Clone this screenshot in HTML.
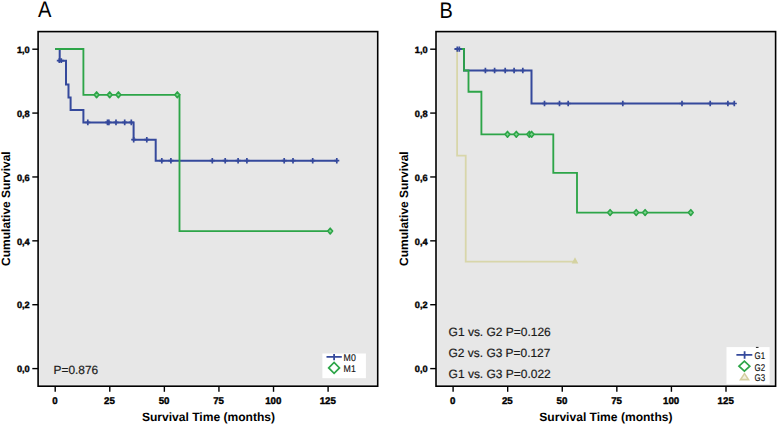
<!DOCTYPE html>
<html><head><meta charset="utf-8"><style>
html,body{margin:0;padding:0;background:#fff;width:778px;height:425px;overflow:hidden}
svg{display:block}
text{font-family:"Liberation Sans",sans-serif;text-rendering:geometricPrecision}
.tk{font-size:9.2px;font-weight:bold;fill:#000;stroke:#000;stroke-width:0.4px}
.tx{font-size:9.7px}
.ax{font-size:12px;font-weight:bold;fill:#000}
.lg{font-size:9.8px;fill:#111;stroke:#111;stroke-width:0.15px}
.pv{font-size:12px;fill:#1a1a1a;stroke:#1a1a1a;stroke-width:0.2px}
.pl{font-size:22.6px;fill:#000}
</style></head><body>
<svg width="778" height="425" viewBox="0 0 778 425">
<rect x="38.1" y="31.6" width="339.59999999999997" height="354.59999999999997" fill="#e7e7e7" stroke="none"/>
<rect x="436.0" y="31.6" width="339.6" height="354.59999999999997" fill="#e7e7e7" stroke="none"/>
<path d="M55.2 49.0 L59.7 49.0 L59.7 60.7 L66.0 60.7 L66.0 84.5 L68.5 84.5 L68.5 97.4 L70.6 97.4 L70.6 109.9 L83.4 109.9 L83.4 122.4 L133.6 122.4 L133.6 139.7 L155.7 139.7 L155.7 160.7 L336.8 160.7" stroke="#35499C" stroke-width="2.0" fill="none" stroke-linejoin="miter" stroke-linecap="butt"/>
<path d="M55.2 49.0 L83.4 49.0 L83.4 94.8 L179.5 94.8 L179.5 231.1 L330.2 231.1" stroke="#2DA548" stroke-width="1.85" fill="none" stroke-linejoin="miter" stroke-linecap="butt"/>
<path d="M59.3 58.300000000000004V63.1M56.8 60.7H61.8" stroke="#35499C" stroke-width="1.7" fill="none"/>
<path d="M61.3 58.300000000000004V63.1M58.8 60.7H63.8" stroke="#35499C" stroke-width="1.7" fill="none"/>
<path d="M87.8 119.60000000000001V125.2M85.3 122.4H90.3" stroke="#35499C" stroke-width="1.7" fill="none"/>
<path d="M107.5 119.60000000000001V125.2M105.0 122.4H110.0" stroke="#35499C" stroke-width="1.7" fill="none"/>
<path d="M108.9 119.60000000000001V125.2M106.4 122.4H111.4" stroke="#35499C" stroke-width="1.7" fill="none"/>
<path d="M116.0 119.60000000000001V125.2M113.5 122.4H118.5" stroke="#35499C" stroke-width="1.7" fill="none"/>
<path d="M124.7 119.60000000000001V125.2M122.2 122.4H127.2" stroke="#35499C" stroke-width="1.7" fill="none"/>
<path d="M131.3 119.60000000000001V125.2M128.8 122.4H133.8" stroke="#35499C" stroke-width="1.7" fill="none"/>
<path d="M133.7 136.89999999999998V142.5M131.2 139.7H136.2" stroke="#35499C" stroke-width="1.7" fill="none"/>
<path d="M146.8 136.89999999999998V142.5M144.3 139.7H149.3" stroke="#35499C" stroke-width="1.7" fill="none"/>
<path d="M161.8 157.89999999999998V163.5M159.3 160.7H164.3" stroke="#35499C" stroke-width="1.7" fill="none"/>
<path d="M170.9 157.89999999999998V163.5M168.4 160.7H173.4" stroke="#35499C" stroke-width="1.7" fill="none"/>
<path d="M212.3 157.89999999999998V163.5M209.8 160.7H214.8" stroke="#35499C" stroke-width="1.7" fill="none"/>
<path d="M225.2 157.89999999999998V163.5M222.7 160.7H227.7" stroke="#35499C" stroke-width="1.7" fill="none"/>
<path d="M238.1 157.89999999999998V163.5M235.6 160.7H240.6" stroke="#35499C" stroke-width="1.7" fill="none"/>
<path d="M246.9 157.89999999999998V163.5M244.4 160.7H249.4" stroke="#35499C" stroke-width="1.7" fill="none"/>
<path d="M284.2 157.89999999999998V163.5M281.7 160.7H286.7" stroke="#35499C" stroke-width="1.7" fill="none"/>
<path d="M293.0 157.89999999999998V163.5M290.5 160.7H295.5" stroke="#35499C" stroke-width="1.7" fill="none"/>
<path d="M312.7 157.89999999999998V163.5M310.2 160.7H315.2" stroke="#35499C" stroke-width="1.7" fill="none"/>
<path d="M336.8 157.89999999999998V163.5M334.3 160.7H339.3" stroke="#35499C" stroke-width="1.7" fill="none"/>
<path d="M94.19999999999999 94.8L96.6 91.89999999999999L99.0 94.8L96.6 97.7Z" stroke="#2DA548" stroke-width="1.6" fill="#7fd68e" stroke-linejoin="round"/>
<path d="M107.3 94.8L109.7 91.89999999999999L112.10000000000001 94.8L109.7 97.7Z" stroke="#2DA548" stroke-width="1.6" fill="#7fd68e" stroke-linejoin="round"/>
<path d="M116.0 94.8L118.4 91.89999999999999L120.80000000000001 94.8L118.4 97.7Z" stroke="#2DA548" stroke-width="1.6" fill="#7fd68e" stroke-linejoin="round"/>
<path d="M174.9 94.8L177.3 91.89999999999999L179.70000000000002 94.8L177.3 97.7Z" stroke="#2DA548" stroke-width="1.6" fill="#7fd68e" stroke-linejoin="round"/>
<path d="M327.8 231.1L330.2 228.2L332.59999999999997 231.1L330.2 234.0Z" stroke="#2DA548" stroke-width="1.6" fill="#7fd68e" stroke-linejoin="round"/>
<path d="M454.6 49.0 L457.1 49.0 L457.1 155.6 L465.7 155.6 L465.7 261.6 L575.0 261.6" stroke="#d8d6aa" stroke-width="1.8" fill="none" stroke-linejoin="miter" stroke-linecap="butt"/>
<path d="M454.6 49.0 L464.0 49.0 L464.0 70.5 L531.5 70.5 L531.5 103.5 L734.3 103.5" stroke="#35499C" stroke-width="2.0" fill="none" stroke-linejoin="miter" stroke-linecap="butt"/>
<path d="M460.5 49.0 L464.0 49.0 L464.0 70.5 L468.5 70.5 L468.5 91.7 L481.4 91.7 L481.4 134.3 L553.3 134.3 L553.3 172.9 L577.0 172.9 L577.0 212.6 L690.8 212.6" stroke="#2DA548" stroke-width="1.85" fill="none" stroke-linejoin="miter" stroke-linecap="butt"/>
<path d="M457.3 46.4V51.800000000000004M454.7 49.1H459.90000000000003" stroke="#35499C" stroke-width="1.7" fill="none"/>
<path d="M459.3 46.4V51.800000000000004M456.7 49.1H461.90000000000003" stroke="#35499C" stroke-width="1.7" fill="none"/>
<path d="M485.4 67.7V73.3M482.9 70.5H487.9" stroke="#35499C" stroke-width="1.7" fill="none"/>
<path d="M494.6 67.7V73.3M492.1 70.5H497.1" stroke="#35499C" stroke-width="1.7" fill="none"/>
<path d="M505.2 67.7V73.3M502.7 70.5H507.7" stroke="#35499C" stroke-width="1.7" fill="none"/>
<path d="M514.1 67.7V73.3M511.6 70.5H516.6" stroke="#35499C" stroke-width="1.7" fill="none"/>
<path d="M522.8 67.7V73.3M520.3 70.5H525.3" stroke="#35499C" stroke-width="1.7" fill="none"/>
<path d="M544.5 100.7V106.3M542.0 103.5H547.0" stroke="#35499C" stroke-width="1.7" fill="none"/>
<path d="M559.5 100.7V106.3M557.0 103.5H562.0" stroke="#35499C" stroke-width="1.7" fill="none"/>
<path d="M568.2 100.7V106.3M565.7 103.5H570.7" stroke="#35499C" stroke-width="1.7" fill="none"/>
<path d="M622.8 100.7V106.3M620.3 103.5H625.3" stroke="#35499C" stroke-width="1.7" fill="none"/>
<path d="M682.0 100.7V106.3M679.5 103.5H684.5" stroke="#35499C" stroke-width="1.7" fill="none"/>
<path d="M710.2 100.7V106.3M707.7 103.5H712.7" stroke="#35499C" stroke-width="1.7" fill="none"/>
<path d="M727.9 100.7V106.3M725.4 103.5H730.4" stroke="#35499C" stroke-width="1.7" fill="none"/>
<path d="M734.3 100.7V106.3M731.8 103.5H736.8" stroke="#35499C" stroke-width="1.7" fill="none"/>
<path d="M505.1 134.3L507.5 131.4L509.9 134.3L507.5 137.20000000000002Z" stroke="#2DA548" stroke-width="1.6" fill="#7fd68e" stroke-linejoin="round"/>
<path d="M513.9 134.3L516.3 131.4L518.6999999999999 134.3L516.3 137.20000000000002Z" stroke="#2DA548" stroke-width="1.6" fill="#7fd68e" stroke-linejoin="round"/>
<path d="M526.9 134.3L529.3 131.4L531.6999999999999 134.3L529.3 137.20000000000002Z" stroke="#2DA548" stroke-width="1.6" fill="#7fd68e" stroke-linejoin="round"/>
<path d="M529.2 134.3L531.6 131.4L534.0 134.3L531.6 137.20000000000002Z" stroke="#2DA548" stroke-width="1.6" fill="#7fd68e" stroke-linejoin="round"/>
<path d="M607.7 212.6L610.1 209.7L612.5 212.6L610.1 215.5Z" stroke="#2DA548" stroke-width="1.6" fill="#7fd68e" stroke-linejoin="round"/>
<path d="M633.8000000000001 212.6L636.2 209.7L638.6 212.6L636.2 215.5Z" stroke="#2DA548" stroke-width="1.6" fill="#7fd68e" stroke-linejoin="round"/>
<path d="M642.7 212.6L645.1 209.7L647.5 212.6L645.1 215.5Z" stroke="#2DA548" stroke-width="1.6" fill="#7fd68e" stroke-linejoin="round"/>
<path d="M688.4 212.6L690.8 209.7L693.1999999999999 212.6L690.8 215.5Z" stroke="#2DA548" stroke-width="1.6" fill="#7fd68e" stroke-linejoin="round"/>
<path d="M575.0 258.6L577.3 262.8H572.7Z" fill="#d4d2a0" stroke="#d4d2a0" stroke-width="1.2"/>
<rect x="322.4" y="353.5" width="43.5" height="24.7" fill="#fff"/>
<path d="M326.5 356.8H341.8M334.1 353.9V360.2" stroke="#35499C" stroke-width="1.8" fill="none"/>
<path d="M328.70000000000005 367.9L334.1 362.5L339.5 367.9L334.1 373.29999999999995Z" stroke="#2DA548" stroke-width="1.7" fill="none" stroke-linejoin="miter"/>
<text x="343.6" y="361.2" class="lg" textLength="12.2" lengthAdjust="spacingAndGlyphs">M0</text>
<text x="343.6" y="371.8" class="lg" textLength="12.2" lengthAdjust="spacingAndGlyphs">M1</text>
<rect x="726.5" y="347.1" width="43.1" height="38" fill="#fff"/>
<path d="M736.4 354.8H752.3M744.6 351.2V358.8" stroke="#35499C" stroke-width="1.8" fill="none"/>
<path d="M739.0 366.2L744.4 361.2L749.8 366.2L744.4 371.2Z" stroke="#2DA548" stroke-width="1.7" fill="none" stroke-linejoin="miter"/>
<path d="M744.5 373.6L748.5 379.6H740.5Z" fill="#f2f0e0" stroke="#d4cea0" stroke-width="1.6"/>
<text x="754.6" y="358.7" class="lg" textLength="10.6" lengthAdjust="spacingAndGlyphs">G1</text>
<text x="754.6" y="370.8" class="lg" textLength="10.6" lengthAdjust="spacingAndGlyphs">G2</text>
<text x="754.6" y="381.1" class="lg" textLength="10.6" lengthAdjust="spacingAndGlyphs">G3</text>
<rect x="755.9" y="346.9" width="2.6" height="1.1" fill="#333"/>
<text x="53.6" y="373.5" class="pv" textLength="44.6" lengthAdjust="spacingAndGlyphs">P=0.876</text>
<text x="448.6" y="335.5" class="pv" textLength="102.2" lengthAdjust="spacingAndGlyphs">G1 vs. G2 P=0.126</text>
<text x="448.6" y="356.7" class="pv" textLength="101.8" lengthAdjust="spacingAndGlyphs">G2 vs. G3 P=0.127</text>
<text x="448.6" y="378.2" class="pv" textLength="102.2" lengthAdjust="spacingAndGlyphs">G1 vs. G3 P=0.022</text>
<rect x="39.6" y="33.1" width="336.59999999999997" height="351.59999999999997" fill="none" stroke="#ececec" stroke-width="1.2"/>
<rect x="38.1" y="31.6" width="339.59999999999997" height="354.59999999999997" fill="none" stroke="#000" stroke-width="1.6"/>
<rect x="437.5" y="33.1" width="336.6" height="351.59999999999997" fill="none" stroke="#ececec" stroke-width="1.2"/>
<rect x="436.0" y="31.6" width="339.6" height="354.59999999999997" fill="none" stroke="#000" stroke-width="1.6"/>
<line x1="32.300000000000004" y1="368.6" x2="38.1" y2="368.6" stroke="#000" stroke-width="1.4"/>
<text x="29.700000000000003" y="372.3" class="tk" text-anchor="end">0,0</text>
<line x1="32.300000000000004" y1="304.72" x2="38.1" y2="304.72" stroke="#000" stroke-width="1.4"/>
<text x="29.700000000000003" y="308.42" class="tk" text-anchor="end">0,2</text>
<line x1="32.300000000000004" y1="240.84000000000003" x2="38.1" y2="240.84000000000003" stroke="#000" stroke-width="1.4"/>
<text x="29.700000000000003" y="244.54000000000002" class="tk" text-anchor="end">0,4</text>
<line x1="32.300000000000004" y1="176.96" x2="38.1" y2="176.96" stroke="#000" stroke-width="1.4"/>
<text x="29.700000000000003" y="180.66" class="tk" text-anchor="end">0,6</text>
<line x1="32.300000000000004" y1="113.08000000000001" x2="38.1" y2="113.08000000000001" stroke="#000" stroke-width="1.4"/>
<text x="29.700000000000003" y="116.78000000000002" class="tk" text-anchor="end">0,8</text>
<line x1="32.300000000000004" y1="49.19999999999999" x2="38.1" y2="49.19999999999999" stroke="#000" stroke-width="1.4"/>
<text x="29.700000000000003" y="52.89999999999999" class="tk" text-anchor="end">1,0</text>
<line x1="55.2" y1="386.2" x2="55.2" y2="391.8" stroke="#000" stroke-width="1.4"/>
<text x="54.900000000000006" y="404.3" class="tk tx" text-anchor="middle">0</text>
<line x1="109.78" y1="386.2" x2="109.78" y2="391.8" stroke="#000" stroke-width="1.4"/>
<text x="109.48" y="404.3" class="tk tx" text-anchor="middle">25</text>
<line x1="164.36" y1="386.2" x2="164.36" y2="391.8" stroke="#000" stroke-width="1.4"/>
<text x="164.06" y="404.3" class="tk tx" text-anchor="middle">50</text>
<line x1="218.94" y1="386.2" x2="218.94" y2="391.8" stroke="#000" stroke-width="1.4"/>
<text x="218.64" y="404.3" class="tk tx" text-anchor="middle">75</text>
<line x1="273.52" y1="386.2" x2="273.52" y2="391.8" stroke="#000" stroke-width="1.4"/>
<text x="273.21999999999997" y="404.3" class="tk tx" text-anchor="middle">100</text>
<line x1="328.09999999999997" y1="386.2" x2="328.09999999999997" y2="391.8" stroke="#000" stroke-width="1.4"/>
<text x="327.79999999999995" y="404.3" class="tk tx" text-anchor="middle">125</text>
<text x="208.5" y="420.9" class="ax" text-anchor="middle" textLength="133.2" lengthAdjust="spacingAndGlyphs">Survival Time (months)</text>
<text transform="translate(9.8,208.6) rotate(-90)" class="ax" text-anchor="middle" textLength="114.6" lengthAdjust="spacingAndGlyphs">Cumulative Survival</text>
<line x1="430.2" y1="368.6" x2="436.0" y2="368.6" stroke="#000" stroke-width="1.4"/>
<text x="427.6" y="372.3" class="tk" text-anchor="end">0,0</text>
<line x1="430.2" y1="304.72" x2="436.0" y2="304.72" stroke="#000" stroke-width="1.4"/>
<text x="427.6" y="308.42" class="tk" text-anchor="end">0,2</text>
<line x1="430.2" y1="240.84000000000003" x2="436.0" y2="240.84000000000003" stroke="#000" stroke-width="1.4"/>
<text x="427.6" y="244.54000000000002" class="tk" text-anchor="end">0,4</text>
<line x1="430.2" y1="176.96" x2="436.0" y2="176.96" stroke="#000" stroke-width="1.4"/>
<text x="427.6" y="180.66" class="tk" text-anchor="end">0,6</text>
<line x1="430.2" y1="113.08000000000001" x2="436.0" y2="113.08000000000001" stroke="#000" stroke-width="1.4"/>
<text x="427.6" y="116.78000000000002" class="tk" text-anchor="end">0,8</text>
<line x1="430.2" y1="49.19999999999999" x2="436.0" y2="49.19999999999999" stroke="#000" stroke-width="1.4"/>
<text x="427.6" y="52.89999999999999" class="tk" text-anchor="end">1,0</text>
<line x1="453.09999999999997" y1="386.2" x2="453.09999999999997" y2="391.8" stroke="#000" stroke-width="1.4"/>
<text x="452.79999999999995" y="404.3" class="tk tx" text-anchor="middle">0</text>
<line x1="507.67999999999995" y1="386.2" x2="507.67999999999995" y2="391.8" stroke="#000" stroke-width="1.4"/>
<text x="507.37999999999994" y="404.3" class="tk tx" text-anchor="middle">25</text>
<line x1="562.26" y1="386.2" x2="562.26" y2="391.8" stroke="#000" stroke-width="1.4"/>
<text x="561.96" y="404.3" class="tk tx" text-anchor="middle">50</text>
<line x1="616.8399999999999" y1="386.2" x2="616.8399999999999" y2="391.8" stroke="#000" stroke-width="1.4"/>
<text x="616.54" y="404.3" class="tk tx" text-anchor="middle">75</text>
<line x1="671.42" y1="386.2" x2="671.42" y2="391.8" stroke="#000" stroke-width="1.4"/>
<text x="671.12" y="404.3" class="tk tx" text-anchor="middle">100</text>
<line x1="726.0" y1="386.2" x2="726.0" y2="391.8" stroke="#000" stroke-width="1.4"/>
<text x="725.7" y="404.3" class="tk tx" text-anchor="middle">125</text>
<text x="605.9" y="420.9" class="ax" text-anchor="middle" textLength="133.2" lengthAdjust="spacingAndGlyphs">Survival Time (months)</text>
<text transform="translate(407.7,208.6) rotate(-90)" class="ax" text-anchor="middle" textLength="114.6" lengthAdjust="spacingAndGlyphs">Cumulative Survival</text>
<text x="38.0" y="16.8" class="pl" textLength="13.4" lengthAdjust="spacingAndGlyphs">A</text>
<text x="439.6" y="18.0" class="pl" textLength="13.3" lengthAdjust="spacingAndGlyphs">B</text>
</svg>
</body></html>
